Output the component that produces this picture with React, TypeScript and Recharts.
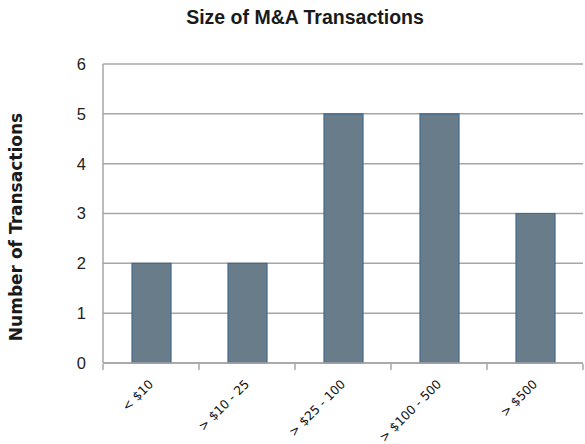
import { BarChart, Bar, XAxis, YAxis, CartesianGrid } from 'recharts';

const categories = ['< $10', '> $10 - 25', '> $25 - 100', '> $100 - 500', '> $500'];
const transactions = [2, 2, 5, 5, 3];
const yTicks = [0, 1, 2, 3, 4, 5, 6];

const data = categories.map((range, i) => ({ range, count: transactions[i] }));

const GRID = '#a6a6a6';

function RangeTick(props: any) {
  const { x, y, payload, index } = props;
  const half = payload && payload.offset ? payload.offset : 48;
  const last = index === categories.length - 1;
  const ax = x + 3;
  const ay = y + 20;
  return (
    <g>
      <line x1={x - half} y1={y - 1} x2={x - half} y2={y + 5} stroke={GRID} strokeWidth={1.5} />
      {last && <line x1={x + half} y1={y - 1} x2={x + half} y2={y + 5} stroke={GRID} strokeWidth={1.5} />}
      <text
        x={ax}
        y={ay}
        transform={`rotate(-45, ${ax}, ${ay})`}
        textAnchor="end"
        fill="#111"
        fontSize={12.3}
        fontFamily="DejaVu Sans, sans-serif"
      >
        {payload.value}
      </text>
    </g>
  );
}

export default function App() {
  return (
    <div style={{ position: 'absolute', left: 0, top: 0, width: 585, height: 444, background: '#fff' }}>
      <div
        style={{
          position: 'absolute',
          left: 0,
          top: 6,
          width: 610,
          textAlign: 'center',
          fontFamily: '"Liberation Sans", Arial, sans-serif',
          fontWeight: 'bold',
          fontSize: 19.5,
          color: '#1a1a1a',
        }}
      >
        Size of M&amp;A Transactions
      </div>
      <BarChart
        width={585}
        height={444}
        data={data}
        margin={{ top: 64, right: 2, bottom: 0, left: 0 }}
        barSize={39}
      >
        <CartesianGrid vertical={false} stroke={GRID} strokeWidth={1.5} />
        <XAxis
          dataKey="range"
          height={81}
          axisLine={{ stroke: GRID, strokeWidth: 1.5 }}
          tickLine={false}
          tickSize={0}
          interval={0}
          tick={<RangeTick />}
        />
        <YAxis
          width={103}
          domain={[0, 6]}
          ticks={yTicks}
          interval={0}
          axisLine={{ stroke: GRID, strokeWidth: 1.5 }}
          tickLine={false}
          tickSize={0}
          tickMargin={17}
          tick={{ fill: '#222', fontSize: 16.5, fontFamily: '"Liberation Sans", Arial, sans-serif' }}
          label={{
            content: () => (
              <text
                x={16}
                y={227}
                transform="rotate(-90, 16, 227)"
                textAnchor="middle"
                dominantBaseline="central"
                fill="#1a1a1a"
                fontSize={17}
                fontWeight="bold"
                fontFamily="DejaVu Sans, sans-serif"
              >
                Number of Transactions
              </text>
            ),
          }}
        />
        <Bar dataKey="count" fill="#687c8a" stroke="#3f6a8e" strokeWidth={1.2} isAnimationActive={false} />
      </BarChart>
    </div>
  );
}
